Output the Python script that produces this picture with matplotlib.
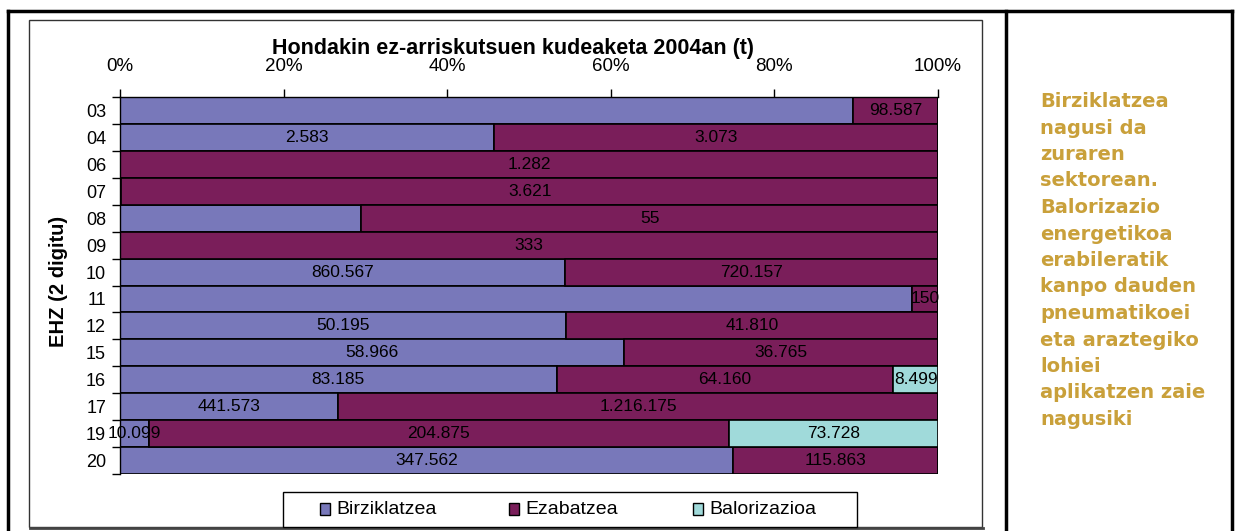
import matplotlib
matplotlib.use("Agg")
import matplotlib.pyplot as plt
from matplotlib.patches import Rectangle
from matplotlib.lines import Line2D
from matplotlib.font_manager import FontProperties
import numpy as np

# ---- data ----
categories = ['03', '04', '06', '07', '08', '09', '10', '11', '12', '15', '16', '17', '19', '20']
birziklatzea = [850000, 2583, 0, 6, 23, 0, 860567, 4600, 50195, 58966, 83185, 441573, 10099, 347562]
ezabatzea = [98587, 3073, 1282, 3621, 55, 333, 720157, 150, 41810, 36765, 64160, 1216175, 204875, 115863]
balorizazioa = [0, 0, 0, 0, 0, 0, 0, 0, 0, 0, 8499, 0, 73728, 0]
birz_labelled = [False, True, False, False, False, False, True, False, True, True, True, True, True, True]
series_names = ['Birziklatzea', 'Ezabatzea', 'Balorizazioa']
xtick_vals = [0, 0.2, 0.4, 0.6, 0.8, 1.0]
xtick_labels = ['0%', '20%', '40%', '60%', '80%', '100%']
title = 'Hondakin ez-arriskutsuen kudeaketa 2004an (t)'
ylabel = 'EHZ (2 digitu)'
side_text = ("Birziklatzea\nnagusi da\nzuraren\nsektorean.\nBalorizazio\nenergetikoa\n"
             "erabileratik\nkanpo dauden\npneumatikoei\neta araztegiko\nlohiei\naplikatzen zaie\nnagusiki")

colors = ['#7878BA', '#7A1E5A', '#A0DADA']

W, H = 1240, 531
plt.rcParams['font.family'] = ['Liberation Sans', 'DejaVu Sans']

fig = plt.figure(figsize=(W / 100, H / 100), dpi=100)

def fx(x):
    return x / W

def fy(y):
    return 1 - y / H

ax = fig.add_axes([fx(120), fy(474), 818 / W, 377 / H])

b = np.array(birziklatzea, float)
e = np.array(ezabatzea, float)
v = np.array(balorizazioa, float)
tot = b + e + v
fb, fe, fv = b / tot, e / tot, v / tot
y = np.arange(len(categories))

def fmt(n):
    return f"{int(n):,}".replace(',', '.')

lefts = np.zeros(len(categories))
all_vals = [b, e, v]
all_fracs = [fb, fe, fv]
for si, (vals, fr) in enumerate(zip(all_vals, all_fracs)):
    ax.barh(y, fr, left=lefts, height=1.0, color=colors[si], edgecolor='black',
            linewidth=1.2, label=series_names[si], zorder=2)
    for i in range(len(categories)):
        if vals[i] <= 0:
            continue
        if si == 0 and not birz_labelled[i]:
            continue
        ax.text(lefts[i] + fr[i] / 2, y[i], fmt(vals[i]), ha='center', va='center',
                fontsize=12.5, color='black', zorder=3)
    lefts = lefts + fr

ax.set_xlim(0, 1)
ax.set_ylim(len(categories) - 0.5, -0.5)
ax.xaxis.tick_top()
ax.set_xticks(xtick_vals)
ax.set_xticklabels(xtick_labels, fontsize=13.5)
ax.tick_params(axis='x', direction='out', length=6, width=1, pad=10, colors='black')
ax.set_yticks(y)
ax.set_yticklabels(categories, fontsize=13)
ax.set_yticks(np.arange(-0.5, len(categories), 1), minor=True)
ax.tick_params(axis='y', which='major', length=0, pad=10)
ax.tick_params(axis='y', which='minor', direction='out', length=6, width=1)
for s in ['right', 'bottom']:
    ax.spines[s].set_visible(False)
for s in ['left', 'top']:
    ax.spines[s].set_linewidth(1)
    ax.spines[s].set_color('black')

fig.text(fx(513), fy(48.5), title, ha='center', va='center', fontsize=15.5, fontweight='bold')
fig.text(fx(58), fy(281), ylabel, ha='center', va='center', rotation=90, fontsize=14.5,
         fontweight='bold')

# legend (drawn as a boxed key below the plot)
fig.patches.append(Rectangle((fx(283), fy(527)), fx(857) - fx(283), fy(492) - fy(527),
                             transform=fig.transFigure, facecolor='white', edgecolor='black',
                             linewidth=1, zorder=5))
key_x = [320, 509, 693]
for si, name in enumerate(series_names):
    fig.patches.append(Rectangle((fx(key_x[si]), fy(515)), 10 / W, 12 / H,
                                 transform=fig.transFigure, facecolor=colors[si],
                                 edgecolor='black', linewidth=1, zorder=6))
    fig.text(fx(key_x[si] + 16), fy(509), name, ha='left', va='center', fontsize=14,
             zorder=6)

side_fp = FontProperties(family='DejaVu Sans', weight='bold', size=14)
fig.text(fx(1040), fy(92), side_text, ha='left', va='top', fontproperties=side_fp,
         color='#C9A03A', linespacing=1.5)

# frames
for xs, ys in [([8, 1232], [11, 11]), ([8, 8], [11, 531]), ([1232, 1232], [11, 531]),
               ([1006, 1006], [11, 531])]:
    fig.lines.append(Line2D([fx(xs[0]), fx(xs[1])], [fy(ys[0]), fy(ys[1])],
                            transform=fig.transFigure, color='black', linewidth=2.5))
fig.patches.append(Rectangle((fx(29), fy(527)), fx(982) - fx(29), fy(20) - fy(527),
                             transform=fig.transFigure, fill=False, edgecolor='#333333',
                             linewidth=1))
fig.lines.append(Line2D([fx(30), fx(983)], [fy(528), fy(528)], transform=fig.transFigure,
                        color='#444444', linewidth=2))

fig.savefig('out.png', dpi=100)
